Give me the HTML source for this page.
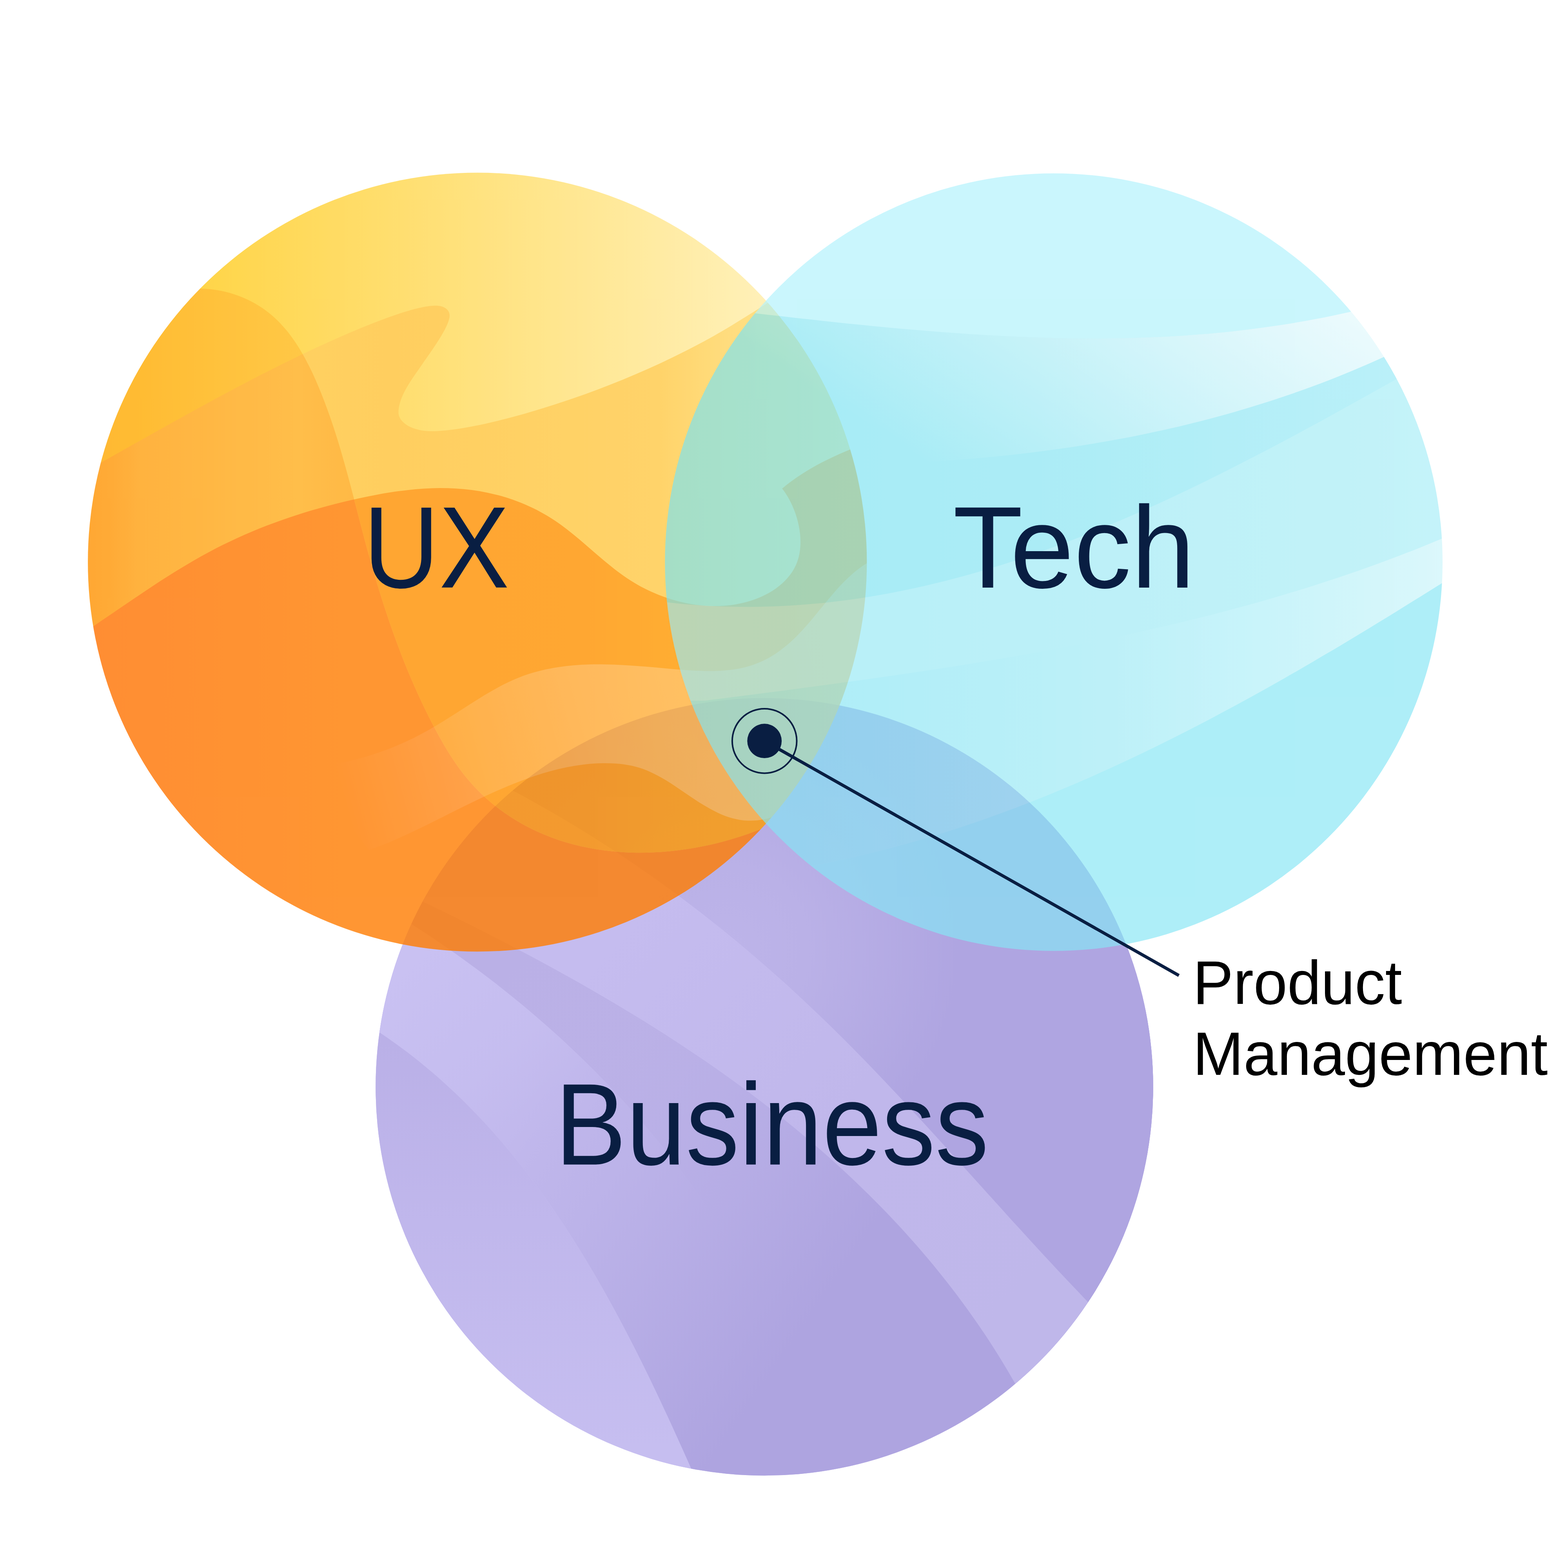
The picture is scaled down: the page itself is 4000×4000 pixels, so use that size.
<!DOCTYPE html>
<html lang="en">
<head>
<meta charset="utf-8">
<title>Product Management Venn diagram</title>
<style>
html,body{margin:0;padding:0;background:#fff;}
body{width:4000px;height:4000px;overflow:hidden;}
svg{display:block;}
text{font-family:"Liberation Sans",sans-serif;}
</style>
</head>
<body>
<svg xmlns="http://www.w3.org/2000/svg" width="4000" height="4000" viewBox="0 0 4000 4000">
<defs>
<clipPath id="cu"><circle cx="1217.75" cy="1434.0" r="993.6"/></clipPath>
<clipPath id="ct"><circle cx="2688.15" cy="1434.0" r="991.85"/></clipPath>
<clipPath id="cb"><circle cx="1950.0" cy="2772.6" r="991.75"/></clipPath>
<clipPath id="cA"><path d="M398.6 756.0C412.3 750.8 426.2 746.6 440.1 743.4C454.1 740.3 468.1 738.2 482.1 737.1C496.1 736.0 510.0 735.9 523.8 736.7C537.6 737.6 551.3 739.4 564.7 742.1C578.1 744.9 591.2 748.5 603.9 753.0C616.7 757.5 629.1 762.8 641.0 769.0C652.9 775.2 664.3 782.2 675.2 789.9C686.0 797.7 696.3 806.2 705.8 815.4C715.4 824.7 724.4 834.6 732.9 845.0C741.3 855.5 749.2 866.5 756.7 878.0C764.1 889.4 771.1 901.3 777.7 913.4C784.3 925.6 790.6 938.0 796.5 950.6C802.4 963.3 808.0 976.0 813.3 988.8C818.7 1001.7 823.8 1014.5 828.7 1027.4C833.6 1040.3 838.3 1053.3 842.8 1066.2C847.3 1079.2 851.6 1092.2 855.8 1105.3C859.9 1118.3 864.0 1131.4 867.9 1144.5C871.8 1157.6 875.5 1170.8 879.2 1183.9C882.9 1197.1 886.5 1210.2 890.1 1223.4C893.6 1236.6 897.1 1249.8 900.5 1263.0C904.0 1276.2 907.4 1289.4 910.8 1302.6C914.2 1315.9 917.6 1329.1 921.1 1342.3C924.5 1355.5 928.0 1368.7 931.6 1381.9C935.1 1395.1 938.7 1408.3 942.4 1421.5C946.1 1434.7 949.8 1447.8 953.7 1461.0C957.5 1474.1 961.4 1487.2 965.5 1500.3C969.5 1513.4 973.6 1526.5 977.8 1539.5C982.0 1552.6 986.3 1565.6 990.7 1578.5C995.1 1591.5 999.6 1604.5 1004.2 1617.3C1008.8 1630.2 1013.6 1643.1 1018.5 1655.9C1023.3 1668.7 1028.3 1681.5 1033.4 1694.2C1038.5 1706.9 1043.8 1719.5 1049.2 1732.1C1054.6 1744.7 1060.1 1757.3 1065.8 1769.7C1071.5 1782.2 1077.3 1794.6 1083.3 1807.0C1089.3 1819.3 1095.4 1831.6 1101.7 1843.8C1108.0 1856.0 1114.4 1868.1 1121.1 1880.1C1127.8 1892.1 1134.7 1904.0 1141.8 1915.7C1149.0 1927.3 1156.5 1938.8 1164.3 1950.0C1172.1 1961.2 1180.2 1972.1 1188.8 1982.6C1197.4 1993.2 1206.5 2003.4 1216.0 2013.1C1225.4 2022.9 1235.4 2032.3 1245.7 2041.2C1256.0 2050.2 1266.7 2058.7 1277.7 2066.8C1288.7 2074.8 1300.1 2082.5 1311.7 2089.7C1323.3 2096.9 1335.2 2103.6 1347.3 2109.9C1359.5 2116.2 1371.8 2122.0 1384.3 2127.3C1396.9 2132.6 1409.6 2137.5 1422.4 2141.9C1435.3 2146.2 1448.3 2150.2 1461.5 2153.7C1474.6 2157.2 1487.9 2160.2 1501.3 2162.8C1514.7 2165.4 1528.2 2167.6 1541.7 2169.4C1555.3 2171.2 1569.0 2172.5 1582.6 2173.5C1596.3 2174.5 1610.1 2175.0 1623.9 2175.2C1637.6 2175.4 1651.4 2175.2 1665.2 2174.6C1679.0 2174.0 1692.8 2173.1 1706.6 2171.8C1720.4 2170.5 1734.1 2168.8 1747.8 2166.8C1761.5 2164.8 1775.1 2162.5 1788.7 2159.8C1802.2 2157.2 1815.7 2154.2 1829.1 2150.9C1842.5 2147.6 1855.7 2144.0 1868.9 2140.1C1882.0 2136.2 1895.0 2132.0 1907.9 2127.5C1920.7 2123.0 1933.4 2118.3 1945.9 2113.2C1958.4 2108.2 1970.8 2102.9 1982.9 2097.4C1995.0 2091.8 2006.9 2086.1 2018.6 2080.0L2500.0 2080.0L2500.0 2700.0L0.0 2700.0L0.0 600.0L400.0 752.0Z"/></clipPath>
<linearGradient id="gR1" gradientUnits="userSpaceOnUse" x1="224" y1="0" x2="2211" y2="0"><stop offset="0.0030" stop-color="#ffc400"/><stop offset="0.9341" stop-color="#fff0b3"/><stop offset="1.0000" stop-color="#fff2bd"/></linearGradient>
<linearGradient id="gR2" gradientUnits="userSpaceOnUse" x1="224" y1="0" x2="2211" y2="0"><stop offset="0.0000" stop-color="#ffa600"/><stop offset="0.0609" stop-color="#ffab00"/><stop offset="0.2647" stop-color="#ffba17"/><stop offset="0.3402" stop-color="#ffbf1e"/></linearGradient>
<linearGradient id="gR3" gradientUnits="userSpaceOnUse" x1="224" y1="0" x2="2211" y2="0"><stop offset="0.2396" stop-color="#ffc63a"/><stop offset="0.3905" stop-color="#ffc338"/><stop offset="0.7328" stop-color="#ffc945"/><stop offset="0.8183" stop-color="#ffd45d"/><stop offset="1.0000" stop-color="#ffe07c"/></linearGradient>
<linearGradient id="gR4" gradientUnits="userSpaceOnUse" x1="224" y1="0" x2="2211" y2="0"><stop offset="0.0000" stop-color="#ff9201"/><stop offset="0.0282" stop-color="#ff9605"/><stop offset="0.0684" stop-color="#ffa010"/><stop offset="0.2698" stop-color="#ffae1d"/><stop offset="0.3402" stop-color="#ffa818"/><stop offset="0.5415" stop-color="#ffa818"/></linearGradient>
<linearGradient id="gR5" gradientUnits="userSpaceOnUse" x1="224" y1="0" x2="2211" y2="0"><stop offset="0.3402" stop-color="#ff9000"/><stop offset="0.6422" stop-color="#ff9200"/><stop offset="0.7328" stop-color="#ff9800"/><stop offset="1.0000" stop-color="#ff9f00"/></linearGradient>
<linearGradient id="gR6" gradientUnits="userSpaceOnUse" x1="224" y1="0" x2="2211" y2="0"><stop offset="0.0000" stop-color="#ff7100"/><stop offset="0.3301" stop-color="#ff7c00"/><stop offset="1.0000" stop-color="#ff7c00"/></linearGradient>
<linearGradient id="gu4" gradientUnits="userSpaceOnUse" x1="880" y1="2060" x2="2200" y2="1700"><stop offset="0.0000" stop-color="#ffffff" stop-opacity="0"/><stop offset="0.0900" stop-color="#ffffff" stop-opacity="0.04"/><stop offset="0.2800" stop-color="#ffffff" stop-opacity="0.13"/><stop offset="0.4700" stop-color="#ffffff" stop-opacity="0.2"/><stop offset="0.6300" stop-color="#ffffff" stop-opacity="0.23"/><stop offset="1.0000" stop-color="#ffffff" stop-opacity="0.27"/></linearGradient>
<linearGradient id="gtD" gradientUnits="userSpaceOnUse" x1="1696" y1="0" x2="3680" y2="0"><stop offset="0.0000" stop-color="#7ae3f2"/><stop offset="0.1532" stop-color="#7ce3f2"/><stop offset="0.4758" stop-color="#83e4f2"/><stop offset="0.9093" stop-color="#97e9f6"/><stop offset="1.0000" stop-color="#9beaf6"/></linearGradient>
<linearGradient id="gtL" gradientUnits="userSpaceOnUse" x1="1696" y1="0" x2="3680" y2="0"><stop offset="0.0000" stop-color="#9ae9f5"/><stop offset="0.2641" stop-color="#97e9f6"/><stop offset="0.4808" stop-color="#9be9f5"/><stop offset="0.9093" stop-color="#a5edf6"/><stop offset="1.0000" stop-color="#a8edf8"/></linearGradient>
<linearGradient id="gtw1" gradientUnits="userSpaceOnUse" x1="2186" y1="1066" x2="2728.4" y2="222.9"><stop offset="0.0000" stop-color="#ffffff" stop-opacity="0"/><stop offset="1.0000" stop-color="#ffffff" stop-opacity="0.8"/></linearGradient>
<linearGradient id="gtw2" gradientUnits="userSpaceOnUse" x1="1696" y1="0" x2="3680" y2="0"><stop offset="0.0000" stop-color="#82e4f2"/><stop offset="0.0776" stop-color="#83e4f2"/><stop offset="0.2641" stop-color="#8be6f5"/><stop offset="0.5766" stop-color="#9eeaf6"/><stop offset="0.7833" stop-color="#b1f0f9"/><stop offset="0.9672" stop-color="#c5f3f9"/><stop offset="1.0000" stop-color="#cbf5fb"/></linearGradient>
<linearGradient id="gbM" gradientUnits="userSpaceOnUse" x1="1350" y1="2700" x2="2150" y2="3250"><stop offset="0.0000" stop-color="#c2b9ed"/><stop offset="0.3500" stop-color="#bcb3e9"/><stop offset="1.0000" stop-color="#aea4e0"/></linearGradient>
<linearGradient id="gbM0" gradientUnits="userSpaceOnUse" x1="1000" y1="2450" x2="1500" y2="2950"><stop offset="0.0000" stop-color="#c9c1f2" stop-opacity="0"/><stop offset="0.5000" stop-color="#c2b9ed" stop-opacity="0.6"/><stop offset="1.0000" stop-color="#beb5ea"/></linearGradient>
<linearGradient id="gbTL" gradientUnits="userSpaceOnUse" x1="1050" y1="2450" x2="1450" y2="2900"><stop offset="0.0000" stop-color="#c9c1f2"/><stop offset="0.5500" stop-color="#c6bef0" stop-opacity="0.8"/><stop offset="1.0000" stop-color="#c2b9ed" stop-opacity="0"/></linearGradient>
<linearGradient id="gb2" gradientUnits="userSpaceOnUse" x1="1250" y1="2450" x2="1900" y2="3050"><stop offset="0.0000" stop-color="#bab0e6"/><stop offset="0.5000" stop-color="#bab0e6" stop-opacity="0.9"/><stop offset="1.0000" stop-color="#b4aae3" stop-opacity="0"/></linearGradient>
<linearGradient id="gb1" gradientUnits="userSpaceOnUse" x1="0" y1="2650" x2="0" y2="3700"><stop offset="0.0000" stop-color="#bab0e7"/><stop offset="0.4500" stop-color="#c0b7ec"/><stop offset="1.0000" stop-color="#c6bef0"/></linearGradient>
<radialGradient id="gbR" gradientUnits="userSpaceOnUse" cx="1850" cy="2420" r="600"><stop offset="0" stop-color="#bdb4e9"/><stop offset="0.35" stop-color="#bab1e7"/><stop offset="1" stop-color="#afa5e1"/></radialGradient>
<linearGradient id="gbL" gradientUnits="userSpaceOnUse" x1="1500" y1="2450" x2="2650" y2="3450"><stop offset="0.0000" stop-color="#c5bcef"/><stop offset="0.5000" stop-color="#c0b7eb"/><stop offset="1.0000" stop-color="#bfb7ea"/></linearGradient>
</defs>
<rect width="4000" height="4000" fill="#fff"/>
<g clip-path="url(#cb)">
<rect x="0" y="0" width="4000" height="4000" fill="#c9c1f2"/>
<path d="M898.2 2590.1C910.5 2597.2 922.6 2604.6 934.6 2612.0C946.5 2619.5 958.3 2627.2 970.0 2635.0C981.7 2642.8 993.2 2650.7 1004.5 2658.9C1015.9 2667.0 1027.1 2675.2 1038.1 2683.6C1049.2 2692.1 1060.1 2700.6 1070.9 2709.3C1081.7 2718.0 1092.3 2726.9 1102.8 2735.8C1113.3 2744.8 1123.7 2753.9 1133.9 2763.2C1144.1 2772.4 1154.2 2781.8 1164.2 2791.3C1174.2 2800.8 1184.0 2810.4 1193.7 2820.2C1203.4 2829.9 1213.0 2839.8 1222.5 2849.8C1231.9 2859.8 1241.3 2869.9 1250.5 2880.1C1259.7 2890.3 1268.8 2900.6 1277.8 2911.1C1286.8 2921.5 1295.7 2932.0 1304.4 2942.7C1313.2 2953.3 1321.8 2964.0 1330.4 2974.9C1338.9 2985.7 1347.3 2996.6 1355.6 3007.6C1364.0 3018.7 1372.2 3029.8 1380.3 3040.9C1388.4 3052.1 1396.4 3063.4 1404.3 3074.8C1412.3 3086.1 1420.1 3097.5 1427.8 3109.0C1435.5 3120.5 1443.2 3132.1 1450.7 3143.8C1458.2 3155.4 1465.7 3167.1 1473.1 3178.9C1480.4 3190.7 1487.7 3202.5 1494.9 3214.4C1502.1 3226.3 1509.2 3238.3 1516.2 3250.3C1523.2 3262.3 1530.2 3274.4 1537.1 3286.5C1543.9 3298.6 1550.7 3310.8 1557.4 3323.0C1564.2 3335.2 1570.8 3347.4 1577.4 3359.7C1584.0 3372.0 1590.5 3384.3 1596.9 3396.7C1603.4 3409.0 1609.8 3421.4 1616.1 3433.8C1622.4 3446.2 1628.6 3458.6 1634.8 3471.1C1641.0 3483.6 1647.2 3496.0 1653.3 3508.5C1659.3 3521.0 1665.4 3533.6 1671.3 3546.1C1677.3 3558.6 1683.2 3571.1 1689.1 3583.7C1695.0 3596.2 1700.8 3608.8 1706.6 3621.3C1712.4 3633.9 1718.1 3646.4 1723.8 3659.0C1729.5 3671.5 1735.2 3684.0 1740.8 3696.6C1746.4 3709.1 1752.0 3721.6 1757.6 3734.1C1763.1 3746.6 1768.6 3759.1 1774.1 3771.6C1779.6 3784.1 1785.1 3796.5 1790.5 3808.9L3500.0 3810.0L3500.0 2000.0L900.0 2000.0Z" fill="url(#gbM)" opacity="1"/>
<path d="M898.2 2590.1C910.5 2597.2 922.6 2604.6 934.6 2612.0C946.5 2619.5 958.3 2627.2 970.0 2635.0C981.7 2642.8 993.2 2650.7 1004.5 2658.9C1015.9 2667.0 1027.1 2675.2 1038.1 2683.6C1049.2 2692.1 1060.1 2700.6 1070.9 2709.3C1081.7 2718.0 1092.3 2726.9 1102.8 2735.8C1113.3 2744.8 1123.7 2753.9 1133.9 2763.2C1144.1 2772.4 1154.2 2781.8 1164.2 2791.3C1174.2 2800.8 1184.0 2810.4 1193.7 2820.2C1203.4 2829.9 1213.0 2839.8 1222.5 2849.8C1231.9 2859.8 1241.3 2869.9 1250.5 2880.1C1259.7 2890.3 1268.8 2900.6 1277.8 2911.1C1286.8 2921.5 1295.7 2932.0 1304.4 2942.7C1313.2 2953.3 1321.8 2964.0 1330.4 2974.9C1338.9 2985.7 1347.3 2996.6 1355.6 3007.6C1364.0 3018.7 1372.2 3029.8 1380.3 3040.9C1388.4 3052.1 1396.4 3063.4 1404.3 3074.8C1412.3 3086.1 1420.1 3097.5 1427.8 3109.0C1435.5 3120.5 1443.2 3132.1 1450.7 3143.8C1458.2 3155.4 1465.7 3167.1 1473.1 3178.9C1480.4 3190.7 1487.7 3202.5 1494.9 3214.4C1502.1 3226.3 1509.2 3238.3 1516.2 3250.3C1523.2 3262.3 1530.2 3274.4 1537.1 3286.5C1543.9 3298.6 1550.7 3310.8 1557.4 3323.0C1564.2 3335.2 1570.8 3347.4 1577.4 3359.7C1584.0 3372.0 1590.5 3384.3 1596.9 3396.7C1603.4 3409.0 1609.8 3421.4 1616.1 3433.8C1622.4 3446.2 1628.6 3458.6 1634.8 3471.1C1641.0 3483.6 1647.2 3496.0 1653.3 3508.5C1659.3 3521.0 1665.4 3533.6 1671.3 3546.1C1677.3 3558.6 1683.2 3571.1 1689.1 3583.7C1695.0 3596.2 1700.8 3608.8 1706.6 3621.3C1712.4 3633.9 1718.1 3646.4 1723.8 3659.0C1729.5 3671.5 1735.2 3684.0 1740.8 3696.6C1746.4 3709.1 1752.0 3721.6 1757.6 3734.1C1763.1 3746.6 1768.6 3759.1 1774.1 3771.6C1779.6 3784.1 1785.1 3796.5 1790.5 3808.9L3500.0 3810.0L3500.0 2000.0L900.0 2000.0Z" fill="url(#gbTL)"/>
<path d="M798.3 2212.7C810.8 2219.1 823.3 2225.6 835.7 2232.3C848.2 2238.9 860.6 2245.6 872.9 2252.4C885.3 2259.2 897.6 2266.0 909.9 2273.0C922.1 2279.9 934.3 2287.0 946.5 2294.1C958.7 2301.2 970.8 2308.4 982.9 2315.7C994.9 2323.0 1006.9 2330.4 1018.9 2337.8C1030.9 2345.3 1042.8 2352.8 1054.6 2360.4C1066.5 2368.1 1078.3 2375.8 1090.0 2383.6C1101.7 2391.4 1113.4 2399.2 1125.0 2407.2C1136.7 2415.1 1148.2 2423.2 1159.7 2431.3C1171.2 2439.4 1182.6 2447.6 1194.0 2455.9C1205.4 2464.2 1216.7 2472.6 1228.0 2481.0C1239.2 2489.5 1250.4 2498.0 1261.5 2506.6C1272.6 2515.2 1283.7 2523.9 1294.6 2532.7C1305.6 2541.5 1316.5 2550.4 1327.4 2559.3C1338.2 2568.3 1349.0 2577.3 1359.7 2586.4C1370.4 2595.5 1381.0 2604.7 1391.5 2614.0C1402.1 2623.3 1412.6 2632.6 1423.0 2642.1C1433.4 2651.5 1443.7 2661.0 1453.9 2670.7C1464.2 2680.3 1474.3 2689.9 1484.4 2699.7C1494.5 2709.5 1504.5 2719.3 1514.4 2729.3C1524.3 2739.2 1534.2 2749.2 1543.9 2759.3C1553.7 2769.4 1563.4 2779.6 1573.0 2789.9C1582.5 2800.1 1592.0 2810.5 1601.5 2820.9C1610.9 2831.3 1620.2 2841.8 1629.4 2852.4C1638.7 2863.0 1647.8 2873.7 1656.9 2884.4C1665.9 2895.2 1674.9 2906.0 1683.7 2916.9C1692.6 2927.8 1701.4 2938.8 1710.1 2949.9C1718.7 2961.0 1727.3 2972.1 1735.8 2983.4C1744.3 2994.6 1752.7 3005.9 1761.0 3017.3C1769.3 3028.7 1777.4 3040.2 1785.5 3051.8C1793.6 3063.3 1801.6 3075.0 1809.5 3086.7C1817.4 3098.4 1825.2 3110.2 1832.8 3122.1C1840.5 3134.0 1848.1 3146.0 1855.5 3158.0C1863.0 3170.1 1870.4 3182.2 1877.6 3194.4C1884.9 3206.6 1892.0 3218.9 1899.0 3231.3L2640.0 3620.0L2639.5 3623.0C2633.2 3610.4 2626.8 3597.9 2620.3 3585.5C2613.7 3573.1 2607.1 3560.8 2600.3 3548.6C2593.6 3536.3 2586.7 3524.2 2579.7 3512.2C2572.8 3500.2 2565.7 3488.3 2558.5 3476.4C2551.3 3464.6 2544.0 3452.9 2536.6 3441.2C2529.2 3429.6 2521.7 3418.0 2514.1 3406.6C2506.5 3395.1 2498.7 3383.8 2490.9 3372.5C2483.1 3361.2 2475.2 3350.0 2467.2 3338.9C2459.2 3327.8 2451.1 3316.8 2442.9 3305.9C2434.7 3295.0 2426.4 3284.1 2418.0 3273.4C2409.6 3262.7 2401.1 3252.0 2392.5 3241.4C2383.9 3230.8 2375.3 3220.4 2366.5 3210.0C2357.7 3199.5 2348.9 3189.2 2340.0 3179.0C2331.0 3168.7 2322.0 3158.6 2312.9 3148.5C2303.8 3138.4 2294.6 3128.4 2285.3 3118.5C2276.1 3108.6 2266.7 3098.8 2257.3 3089.0C2247.9 3079.2 2238.3 3069.6 2228.7 3060.0C2219.2 3050.4 2209.5 3040.8 2199.7 3031.4C2190.0 3021.9 2180.2 3012.6 2170.3 3003.3C2160.4 2994.0 2150.4 2984.7 2140.4 2975.6C2130.4 2966.4 2120.3 2957.4 2110.1 2948.3C2099.9 2939.3 2089.7 2930.4 2079.4 2921.5C2069.0 2912.7 2058.7 2903.9 2048.2 2895.2C2037.8 2886.4 2027.3 2877.8 2016.7 2869.2C2006.2 2860.6 1995.5 2852.1 1984.8 2843.6C1974.2 2835.2 1963.4 2826.8 1952.6 2818.5C1941.8 2810.1 1930.9 2801.9 1920.0 2793.7C1909.1 2785.5 1898.1 2777.4 1887.1 2769.3C1876.1 2761.2 1865.0 2753.2 1853.9 2745.3C1842.8 2737.3 1831.6 2729.5 1820.4 2721.6C1809.2 2713.8 1797.9 2706.0 1786.6 2698.3C1775.2 2690.6 1763.9 2683.0 1752.5 2675.4C1741.1 2667.8 1729.6 2660.3 1718.1 2652.8C1706.6 2645.3 1695.1 2637.9 1683.5 2630.6C1671.9 2623.2 1660.3 2615.9 1648.7 2608.6C1637.0 2601.4 1625.3 2594.2 1613.6 2587.0C1601.9 2579.9 1590.1 2572.8 1578.4 2565.7C1566.6 2558.7 1554.8 2551.7 1542.9 2544.7C1531.1 2537.8 1519.2 2530.9 1507.3 2524.0C1495.4 2517.2 1483.4 2510.4 1471.5 2503.6C1459.5 2496.9 1447.5 2490.1 1435.5 2483.5C1423.5 2476.8 1411.5 2470.2 1399.4 2463.6C1387.4 2457.0 1375.3 2450.5 1363.2 2444.0C1351.1 2437.5 1339.0 2431.1 1326.9 2424.7C1314.7 2418.3 1302.6 2411.9 1290.4 2405.6C1278.3 2399.3 1266.1 2393.0 1253.9 2386.8C1241.7 2380.5 1229.5 2374.3 1217.3 2368.1C1205.1 2362.0 1192.9 2355.8 1180.7 2349.8C1168.4 2343.7 1156.2 2337.6 1144.0 2331.6C1131.7 2325.6 1119.5 2319.6 1107.2 2313.6C1095.0 2307.7 1082.8 2301.7 1070.5 2295.8C1058.3 2290.0 1046.0 2284.1 1033.8 2278.3C1021.5 2272.5 1009.3 2266.7 997.0 2260.9C984.8 2255.1 972.5 2249.4 960.3 2243.7C948.1 2238.0 935.9 2232.3 923.6 2226.6C911.4 2221.0 899.2 2215.4 887.0 2209.8C874.8 2204.2 862.6 2198.6 850.5 2193.0Z" fill="url(#gb2)"/>
<path d="M898.2 2590.1C910.5 2597.2 922.6 2604.6 934.6 2612.0C946.5 2619.5 958.3 2627.2 970.0 2635.0C981.7 2642.8 993.2 2650.7 1004.5 2658.9C1015.9 2667.0 1027.1 2675.2 1038.1 2683.6C1049.2 2692.1 1060.1 2700.6 1070.9 2709.3C1081.7 2718.0 1092.3 2726.9 1102.8 2735.8C1113.3 2744.8 1123.7 2753.9 1133.9 2763.2C1144.1 2772.4 1154.2 2781.8 1164.2 2791.3C1174.2 2800.8 1184.0 2810.4 1193.7 2820.2C1203.4 2829.9 1213.0 2839.8 1222.5 2849.8C1231.9 2859.8 1241.3 2869.9 1250.5 2880.1C1259.7 2890.3 1268.8 2900.6 1277.8 2911.1C1286.8 2921.5 1295.7 2932.0 1304.4 2942.7C1313.2 2953.3 1321.8 2964.0 1330.4 2974.9C1338.9 2985.7 1347.3 2996.6 1355.6 3007.6C1364.0 3018.7 1372.2 3029.8 1380.3 3040.9C1388.4 3052.1 1396.4 3063.4 1404.3 3074.8C1412.3 3086.1 1420.1 3097.5 1427.8 3109.0C1435.5 3120.5 1443.2 3132.1 1450.7 3143.8C1458.2 3155.4 1465.7 3167.1 1473.1 3178.9C1480.4 3190.7 1487.7 3202.5 1494.9 3214.4C1502.1 3226.3 1509.2 3238.3 1516.2 3250.3C1523.2 3262.3 1530.2 3274.4 1537.1 3286.5C1543.9 3298.6 1550.7 3310.8 1557.4 3323.0C1564.2 3335.2 1570.8 3347.4 1577.4 3359.7C1584.0 3372.0 1590.5 3384.3 1596.9 3396.7C1603.4 3409.0 1609.8 3421.4 1616.1 3433.8C1622.4 3446.2 1628.6 3458.6 1634.8 3471.1C1641.0 3483.6 1647.2 3496.0 1653.3 3508.5C1659.3 3521.0 1665.4 3533.6 1671.3 3546.1C1677.3 3558.6 1683.2 3571.1 1689.1 3583.7C1695.0 3596.2 1700.8 3608.8 1706.6 3621.3C1712.4 3633.9 1718.1 3646.4 1723.8 3659.0C1729.5 3671.5 1735.2 3684.0 1740.8 3696.6C1746.4 3709.1 1752.0 3721.6 1757.6 3734.1C1763.1 3746.6 1768.6 3759.1 1774.1 3771.6C1779.6 3784.1 1785.1 3796.5 1790.5 3808.9L500.0 3810.0L500.0 2590.0Z" fill="url(#gb1)"/>
<path d="M1096.2 1914.1C1109.0 1919.8 1121.8 1925.5 1134.6 1931.3C1147.3 1937.1 1160.0 1943.0 1172.6 1949.0C1185.3 1955.0 1197.8 1961.0 1210.4 1967.1C1222.9 1973.3 1235.4 1979.5 1247.8 1985.7C1260.2 1992.0 1272.6 1998.4 1284.9 2004.8C1297.3 2011.2 1309.5 2017.7 1321.7 2024.3C1334.0 2030.9 1346.1 2037.5 1358.3 2044.3C1370.4 2051.0 1382.4 2057.8 1394.5 2064.7C1406.5 2071.6 1418.4 2078.5 1430.4 2085.5C1442.3 2092.5 1454.1 2099.6 1465.9 2106.8C1477.8 2113.9 1489.5 2121.2 1501.2 2128.5C1512.9 2135.8 1524.6 2143.2 1536.2 2150.6C1547.8 2158.0 1559.4 2165.5 1570.9 2173.1C1582.4 2180.7 1593.9 2188.3 1605.3 2196.1C1616.7 2203.8 1628.0 2211.5 1639.3 2219.4C1650.6 2227.2 1661.9 2235.2 1673.1 2243.1C1684.3 2251.1 1695.5 2259.2 1706.6 2267.3C1717.7 2275.4 1728.8 2283.5 1739.8 2291.8C1750.8 2300.0 1761.7 2308.3 1772.6 2316.7C1783.6 2325.0 1794.4 2333.4 1805.2 2341.9C1816.0 2350.4 1826.8 2359.0 1837.5 2367.6C1848.2 2376.2 1858.9 2384.9 1869.5 2393.6C1880.1 2402.3 1890.7 2411.1 1901.2 2419.9C1911.7 2428.8 1922.2 2437.7 1932.6 2446.7C1943.0 2455.6 1953.4 2464.6 1963.7 2473.7C1974.1 2482.8 1984.3 2491.9 1994.6 2501.1C2004.8 2510.3 2015.0 2519.6 2025.1 2528.9C2035.2 2538.2 2045.3 2547.5 2055.3 2556.9C2065.4 2566.4 2075.4 2575.8 2085.3 2585.4C2095.2 2594.9 2105.1 2604.4 2115.0 2614.1C2124.8 2623.7 2134.6 2633.3 2144.4 2643.1C2154.2 2652.8 2163.9 2662.5 2173.6 2672.3C2183.3 2682.1 2192.9 2692.0 2202.6 2701.8C2212.2 2711.7 2221.8 2721.6 2231.3 2731.6C2240.9 2741.5 2250.4 2751.5 2259.9 2761.5C2269.4 2771.5 2278.9 2781.6 2288.3 2791.6C2297.8 2801.7 2307.2 2811.8 2316.6 2821.9C2326.0 2832.0 2335.4 2842.2 2344.8 2852.3C2354.1 2862.5 2363.5 2872.6 2372.8 2882.8C2382.1 2893.0 2391.4 2903.2 2400.8 2913.5C2410.1 2923.7 2419.4 2933.9 2428.6 2944.2C2437.9 2954.4 2447.2 2964.6 2456.5 2974.9C2465.7 2985.1 2475.0 2995.4 2484.3 3005.7C2493.5 3015.9 2502.8 3026.2 2512.1 3036.4C2521.3 3046.7 2530.6 3057.0 2539.9 3067.2C2549.1 3077.5 2558.4 3087.7 2567.7 3097.9C2577.0 3108.2 2586.2 3118.4 2595.5 3128.6C2604.8 3138.8 2614.1 3149.0 2623.5 3159.2C2632.8 3169.4 2642.1 3179.5 2651.5 3189.7C2660.8 3199.8 2670.2 3209.9 2679.6 3220.0C2688.9 3230.1 2698.3 3240.2 2707.8 3250.3C2717.2 3260.3 2726.6 3270.3 2736.1 3280.3C2745.6 3290.3 2755.1 3300.3 2764.6 3310.2C2774.2 3320.1 2783.7 3330.0 2793.3 3339.8C2802.9 3349.7 2812.5 3359.5 2822.2 3369.3C2831.8 3379.0 2841.5 3388.8 2851.3 3398.4L4000.0 3400.0L4000.0 1500.0L1100.0 1500.0Z" fill="url(#gbR)"/>
<path d="M1096.2 1914.1C1109.0 1919.8 1121.8 1925.5 1134.6 1931.3C1147.3 1937.1 1160.0 1943.0 1172.6 1949.0C1185.3 1955.0 1197.8 1961.0 1210.4 1967.1C1222.9 1973.3 1235.4 1979.5 1247.8 1985.7C1260.2 1992.0 1272.6 1998.4 1284.9 2004.8C1297.3 2011.2 1309.5 2017.7 1321.7 2024.3C1334.0 2030.9 1346.1 2037.5 1358.3 2044.3C1370.4 2051.0 1382.4 2057.8 1394.5 2064.7C1406.5 2071.6 1418.4 2078.5 1430.4 2085.5C1442.3 2092.5 1454.1 2099.6 1465.9 2106.8C1477.8 2113.9 1489.5 2121.2 1501.2 2128.5C1512.9 2135.8 1524.6 2143.2 1536.2 2150.6C1547.8 2158.0 1559.4 2165.5 1570.9 2173.1C1582.4 2180.7 1593.9 2188.3 1605.3 2196.1C1616.7 2203.8 1628.0 2211.5 1639.3 2219.4C1650.6 2227.2 1661.9 2235.2 1673.1 2243.1C1684.3 2251.1 1695.5 2259.2 1706.6 2267.3C1717.7 2275.4 1728.8 2283.5 1739.8 2291.8C1750.8 2300.0 1761.7 2308.3 1772.6 2316.7C1783.6 2325.0 1794.4 2333.4 1805.2 2341.9C1816.0 2350.4 1826.8 2359.0 1837.5 2367.6C1848.2 2376.2 1858.9 2384.9 1869.5 2393.6C1880.1 2402.3 1890.7 2411.1 1901.2 2419.9C1911.7 2428.8 1922.2 2437.7 1932.6 2446.7C1943.0 2455.6 1953.4 2464.6 1963.7 2473.7C1974.1 2482.8 1984.3 2491.9 1994.6 2501.1C2004.8 2510.3 2015.0 2519.6 2025.1 2528.9C2035.2 2538.2 2045.3 2547.5 2055.3 2556.9C2065.4 2566.4 2075.4 2575.8 2085.3 2585.4C2095.2 2594.9 2105.1 2604.4 2115.0 2614.1C2124.8 2623.7 2134.6 2633.3 2144.4 2643.1C2154.2 2652.8 2163.9 2662.5 2173.6 2672.3C2183.3 2682.1 2192.9 2692.0 2202.6 2701.8C2212.2 2711.7 2221.8 2721.6 2231.3 2731.6C2240.9 2741.5 2250.4 2751.5 2259.9 2761.5C2269.4 2771.5 2278.9 2781.6 2288.3 2791.6C2297.8 2801.7 2307.2 2811.8 2316.6 2821.9C2326.0 2832.0 2335.4 2842.2 2344.8 2852.3C2354.1 2862.5 2363.5 2872.6 2372.8 2882.8C2382.1 2893.0 2391.4 2903.2 2400.8 2913.5C2410.1 2923.7 2419.4 2933.9 2428.6 2944.2C2437.9 2954.4 2447.2 2964.6 2456.5 2974.9C2465.7 2985.1 2475.0 2995.4 2484.3 3005.7C2493.5 3015.9 2502.8 3026.2 2512.1 3036.4C2521.3 3046.7 2530.6 3057.0 2539.9 3067.2C2549.1 3077.5 2558.4 3087.7 2567.7 3097.9C2577.0 3108.2 2586.2 3118.4 2595.5 3128.6C2604.8 3138.8 2614.1 3149.0 2623.5 3159.2C2632.8 3169.4 2642.1 3179.5 2651.5 3189.7C2660.8 3199.8 2670.2 3209.9 2679.6 3220.0C2688.9 3230.1 2698.3 3240.2 2707.8 3250.3C2717.2 3260.3 2726.6 3270.3 2736.1 3280.3C2745.6 3290.3 2755.1 3300.3 2764.6 3310.2C2774.2 3320.1 2783.7 3330.0 2793.3 3339.8C2802.9 3349.7 2812.5 3359.5 2822.2 3369.3C2831.8 3379.0 2841.5 3388.8 2851.3 3398.4L2640.0 3620.0L2639.5 3623.0C2633.2 3610.4 2626.8 3597.9 2620.3 3585.5C2613.7 3573.1 2607.1 3560.8 2600.3 3548.6C2593.6 3536.3 2586.7 3524.2 2579.7 3512.2C2572.8 3500.2 2565.7 3488.3 2558.5 3476.4C2551.3 3464.6 2544.0 3452.9 2536.6 3441.2C2529.2 3429.6 2521.7 3418.0 2514.1 3406.6C2506.5 3395.1 2498.7 3383.8 2490.9 3372.5C2483.1 3361.2 2475.2 3350.0 2467.2 3338.9C2459.2 3327.8 2451.1 3316.8 2442.9 3305.9C2434.7 3295.0 2426.4 3284.1 2418.0 3273.4C2409.6 3262.7 2401.1 3252.0 2392.5 3241.4C2383.9 3230.8 2375.3 3220.4 2366.5 3210.0C2357.7 3199.5 2348.9 3189.2 2340.0 3179.0C2331.0 3168.7 2322.0 3158.6 2312.9 3148.5C2303.8 3138.4 2294.6 3128.4 2285.3 3118.5C2276.1 3108.6 2266.7 3098.8 2257.3 3089.0C2247.9 3079.2 2238.3 3069.6 2228.7 3060.0C2219.2 3050.4 2209.5 3040.8 2199.7 3031.4C2190.0 3021.9 2180.2 3012.6 2170.3 3003.3C2160.4 2994.0 2150.4 2984.7 2140.4 2975.6C2130.4 2966.4 2120.3 2957.4 2110.1 2948.3C2099.9 2939.3 2089.7 2930.4 2079.4 2921.5C2069.0 2912.7 2058.7 2903.9 2048.2 2895.2C2037.8 2886.4 2027.3 2877.8 2016.7 2869.2C2006.2 2860.6 1995.5 2852.1 1984.8 2843.6C1974.2 2835.2 1963.4 2826.8 1952.6 2818.5C1941.8 2810.1 1930.9 2801.9 1920.0 2793.7C1909.1 2785.5 1898.1 2777.4 1887.1 2769.3C1876.1 2761.2 1865.0 2753.2 1853.9 2745.3C1842.8 2737.3 1831.6 2729.5 1820.4 2721.6C1809.2 2713.8 1797.9 2706.0 1786.6 2698.3C1775.2 2690.6 1763.9 2683.0 1752.5 2675.4C1741.1 2667.8 1729.6 2660.3 1718.1 2652.8C1706.6 2645.3 1695.1 2637.9 1683.5 2630.6C1671.9 2623.2 1660.3 2615.9 1648.7 2608.6C1637.0 2601.4 1625.3 2594.2 1613.6 2587.0C1601.9 2579.9 1590.1 2572.8 1578.4 2565.7C1566.6 2558.7 1554.8 2551.7 1542.9 2544.7C1531.1 2537.8 1519.2 2530.9 1507.3 2524.0C1495.4 2517.2 1483.4 2510.4 1471.5 2503.6C1459.5 2496.9 1447.5 2490.1 1435.5 2483.5C1423.5 2476.8 1411.5 2470.2 1399.4 2463.6C1387.4 2457.0 1375.3 2450.5 1363.2 2444.0C1351.1 2437.5 1339.0 2431.1 1326.9 2424.7C1314.7 2418.3 1302.6 2411.9 1290.4 2405.6C1278.3 2399.3 1266.1 2393.0 1253.9 2386.8C1241.7 2380.5 1229.5 2374.3 1217.3 2368.1C1205.1 2362.0 1192.9 2355.8 1180.7 2349.8C1168.4 2343.7 1156.2 2337.6 1144.0 2331.6C1131.7 2325.6 1119.5 2319.6 1107.2 2313.6C1095.0 2307.7 1082.8 2301.7 1070.5 2295.8C1058.3 2290.0 1046.0 2284.1 1033.8 2278.3C1021.5 2272.5 1009.3 2266.7 997.0 2260.9C984.8 2255.1 972.5 2249.4 960.3 2243.7C948.1 2238.0 935.9 2232.3 923.6 2226.6C911.4 2221.0 899.2 2215.4 887.0 2209.8C874.8 2204.2 862.6 2198.6 850.5 2193.0Z" fill="url(#gbL)"/>
</g>
<g clip-path="url(#cu)" opacity="0.8">
<rect x="0" y="0" width="4000" height="4000" fill="url(#gR1)"/>
<path d="M150 1240C357.6 1125.8 561.2 1004.2 775 902C865 859 1041 779.8 1111.2 779.8C1133 779.8 1147 790 1147 805C1147 832 1102.7 892.6 1077 929.5C1051.4 966.4 1016.5 1012 1016.5 1052C1016.5 1079 1054 1100 1100 1100C1170 1100 1280.7 1072.8 1365 1047.5C1518.3 1001.6 1672 939.4 1812 862C1869.8 830 1950 778 2010 740L2500.0 740.0L2500.0 2700.0L0.0 2700.0L0.0 1240.0Z" fill="url(#gR3)"/>
<path d="M150.1 1654.8C161.6 1647.7 173.2 1640.3 184.6 1632.9C196.1 1625.5 207.5 1618.0 219.0 1610.4C230.4 1602.8 241.8 1595.1 253.1 1587.4C264.5 1579.7 275.9 1571.9 287.3 1564.2C298.7 1556.4 310.0 1548.6 321.4 1540.9C332.8 1533.1 344.2 1525.4 355.7 1517.7C367.1 1510.0 378.6 1502.3 390.1 1494.7C401.6 1487.1 413.2 1479.6 424.8 1472.3C436.4 1464.9 448.0 1457.6 459.8 1450.4C471.5 1443.3 483.3 1436.3 495.1 1429.4C507.0 1422.6 519.0 1415.9 531.0 1409.4C543.1 1402.9 555.2 1396.6 567.4 1390.5C579.7 1384.5 592.0 1378.6 604.4 1372.9C616.8 1367.2 629.3 1361.7 641.9 1356.5C654.5 1351.2 667.2 1346.1 679.9 1341.1C692.7 1336.2 705.5 1331.5 718.4 1326.9C731.3 1322.4 744.3 1318.0 757.4 1313.8C770.4 1309.6 783.6 1305.5 796.7 1301.6C809.9 1297.8 823.2 1294.0 836.5 1290.5C849.8 1286.9 863.2 1283.5 876.6 1280.3C890.1 1277.0 903.5 1273.9 917.1 1271.0C930.6 1268.0 944.2 1265.2 957.8 1262.7C971.5 1260.1 985.1 1257.7 998.8 1255.6C1012.5 1253.5 1026.2 1251.7 1039.9 1250.2C1053.6 1248.6 1067.3 1247.4 1081.0 1246.6C1094.7 1245.7 1108.3 1245.2 1122.0 1245.1C1135.7 1245.1 1149.3 1245.4 1162.9 1246.2C1176.5 1247.0 1190.1 1248.3 1203.6 1250.0C1217.1 1251.8 1230.6 1254.1 1243.9 1256.9C1257.3 1259.7 1270.5 1263.0 1283.6 1266.8C1296.7 1270.6 1309.7 1275.0 1322.4 1279.9C1335.2 1284.8 1347.7 1290.2 1360.0 1296.2C1372.3 1302.2 1384.4 1308.7 1396.1 1315.8C1407.9 1322.9 1419.3 1330.5 1430.5 1338.6C1441.7 1346.7 1452.6 1355.3 1463.4 1364.1C1474.2 1372.9 1484.8 1381.9 1495.4 1391.0C1505.9 1400.1 1516.4 1409.3 1527.0 1418.3C1537.6 1427.3 1548.2 1436.2 1558.9 1444.8C1569.6 1453.4 1580.5 1461.7 1591.6 1469.5C1602.7 1477.3 1614.1 1484.5 1625.7 1491.2C1637.4 1497.9 1649.3 1504.0 1661.6 1509.6C1673.8 1515.2 1686.4 1520.2 1699.3 1524.6C1712.2 1529.0 1725.5 1532.8 1739.0 1536.0C1752.6 1539.2 1766.3 1541.7 1780.2 1543.4C1794.1 1545.1 1808.1 1546.0 1822.0 1546.1C1836.0 1546.2 1850.0 1545.5 1863.9 1543.7C1877.7 1542.0 1891.5 1539.3 1905.0 1535.6C1918.5 1531.9 1931.7 1527.1 1944.2 1521.3C1956.8 1515.5 1968.7 1508.7 1979.6 1500.9C1990.5 1493.1 2000.4 1484.3 2008.9 1474.5C2017.5 1464.7 2024.6 1454.0 2030.0 1442.2C2035.4 1430.5 2038.9 1417.7 2040.7 1404.2C2042.4 1390.8 2042.4 1376.6 2041.0 1362.4C2039.5 1348.2 2036.6 1333.9 2032.4 1319.9C2028.2 1306.0 2022.8 1292.5 2016.5 1280.0C2010.1 1267.4 2002.8 1255.8 1994.8 1245.7L1996.4 1245.5C2007.3 1236.3 2018.6 1227.7 2030.2 1219.6C2041.8 1211.5 2053.6 1203.9 2065.8 1196.7C2077.9 1189.5 2090.3 1182.8 2102.9 1176.4C2115.5 1170.0 2128.2 1164.0 2141.2 1158.2C2154.1 1152.5 2167.1 1147.1 2180.3 1141.9C2193.5 1136.7 2206.7 1131.8 2220.0 1127.0C2233.3 1122.2 2246.7 1117.6 2260.0 1113.1L2500.0 1115.0L2500.0 2700.0L0.0 2700.0L0.0 1655.0Z" fill="url(#gR5)"/>
<g clip-path="url(#cA)"><rect x="0" y="0" width="4000" height="4000" fill="url(#gR2)"/><path d="M150 1240C357.6 1125.8 561.2 1004.2 775 902C865 859 1041 779.8 1111.2 779.8C1133 779.8 1147 790 1147 805C1147 832 1102.7 892.6 1077 929.5C1051.4 966.4 1016.5 1012 1016.5 1052C1016.5 1079 1054 1100 1100 1100C1170 1100 1280.7 1072.8 1365 1047.5C1518.3 1001.6 1672 939.4 1812 862C1869.8 830 1950 778 2010 740L2500.0 740.0L2500.0 2700.0L0.0 2700.0L0.0 1240.0Z" fill="url(#gR4)"/><path d="M150.1 1654.8C161.6 1647.7 173.2 1640.3 184.6 1632.9C196.1 1625.5 207.5 1618.0 219.0 1610.4C230.4 1602.8 241.8 1595.1 253.1 1587.4C264.5 1579.7 275.9 1571.9 287.3 1564.2C298.7 1556.4 310.0 1548.6 321.4 1540.9C332.8 1533.1 344.2 1525.4 355.7 1517.7C367.1 1510.0 378.6 1502.3 390.1 1494.7C401.6 1487.1 413.2 1479.6 424.8 1472.3C436.4 1464.9 448.0 1457.6 459.8 1450.4C471.5 1443.3 483.3 1436.3 495.1 1429.4C507.0 1422.6 519.0 1415.9 531.0 1409.4C543.1 1402.9 555.2 1396.6 567.4 1390.5C579.7 1384.5 592.0 1378.6 604.4 1372.9C616.8 1367.2 629.3 1361.7 641.9 1356.5C654.5 1351.2 667.2 1346.1 679.9 1341.1C692.7 1336.2 705.5 1331.5 718.4 1326.9C731.3 1322.4 744.3 1318.0 757.4 1313.8C770.4 1309.6 783.6 1305.5 796.7 1301.6C809.9 1297.8 823.2 1294.0 836.5 1290.5C849.8 1286.9 863.2 1283.5 876.6 1280.3C890.1 1277.0 903.5 1273.9 917.1 1271.0C930.6 1268.0 944.2 1265.2 957.8 1262.7C971.5 1260.1 985.1 1257.7 998.8 1255.6C1012.5 1253.5 1026.2 1251.7 1039.9 1250.2C1053.6 1248.6 1067.3 1247.4 1081.0 1246.6C1094.7 1245.7 1108.3 1245.2 1122.0 1245.1C1135.7 1245.1 1149.3 1245.4 1162.9 1246.2C1176.5 1247.0 1190.1 1248.3 1203.6 1250.0C1217.1 1251.8 1230.6 1254.1 1243.9 1256.9C1257.3 1259.7 1270.5 1263.0 1283.6 1266.8C1296.7 1270.6 1309.7 1275.0 1322.4 1279.9C1335.2 1284.8 1347.7 1290.2 1360.0 1296.2C1372.3 1302.2 1384.4 1308.7 1396.1 1315.8C1407.9 1322.9 1419.3 1330.5 1430.5 1338.6C1441.7 1346.7 1452.6 1355.3 1463.4 1364.1C1474.2 1372.9 1484.8 1381.9 1495.4 1391.0C1505.9 1400.1 1516.4 1409.3 1527.0 1418.3C1537.6 1427.3 1548.2 1436.2 1558.9 1444.8C1569.6 1453.4 1580.5 1461.7 1591.6 1469.5C1602.7 1477.3 1614.1 1484.5 1625.7 1491.2C1637.4 1497.9 1649.3 1504.0 1661.6 1509.6C1673.8 1515.2 1686.4 1520.2 1699.3 1524.6C1712.2 1529.0 1725.5 1532.8 1739.0 1536.0C1752.6 1539.2 1766.3 1541.7 1780.2 1543.4C1794.1 1545.1 1808.1 1546.0 1822.0 1546.1C1836.0 1546.2 1850.0 1545.5 1863.9 1543.7C1877.7 1542.0 1891.5 1539.3 1905.0 1535.6C1918.5 1531.9 1931.7 1527.1 1944.2 1521.3C1956.8 1515.5 1968.7 1508.7 1979.6 1500.9C1990.5 1493.1 2000.4 1484.3 2008.9 1474.5C2017.5 1464.7 2024.6 1454.0 2030.0 1442.2C2035.4 1430.5 2038.9 1417.7 2040.7 1404.2C2042.4 1390.8 2042.4 1376.6 2041.0 1362.4C2039.5 1348.2 2036.6 1333.9 2032.4 1319.9C2028.2 1306.0 2022.8 1292.5 2016.5 1280.0C2010.1 1267.4 2002.8 1255.8 1994.8 1245.7L1996.4 1245.5C2007.3 1236.3 2018.6 1227.7 2030.2 1219.6C2041.8 1211.5 2053.6 1203.9 2065.8 1196.7C2077.9 1189.5 2090.3 1182.8 2102.9 1176.4C2115.5 1170.0 2128.2 1164.0 2141.2 1158.2C2154.1 1152.5 2167.1 1147.1 2180.3 1141.9C2193.5 1136.7 2206.7 1131.8 2220.0 1127.0C2233.3 1122.2 2246.7 1117.6 2260.0 1113.1L2500.0 1115.0L2500.0 2700.0L0.0 2700.0L0.0 1655.0Z" fill="url(#gR6)"/></g>
<path d="M778.9 1957.8C793.3 1956.8 807.6 1955.4 821.6 1953.6C835.6 1951.8 849.5 1949.6 863.1 1947.1C876.7 1944.6 890.1 1941.7 903.4 1938.4C916.6 1935.2 929.7 1931.5 942.6 1927.6C955.5 1923.6 968.3 1919.3 980.9 1914.6C993.6 1909.9 1006.1 1904.9 1018.5 1899.5C1030.9 1894.2 1043.2 1888.4 1055.4 1882.4C1067.6 1876.4 1079.7 1870.0 1091.7 1863.3C1103.8 1856.5 1115.8 1849.5 1127.7 1842.1C1139.6 1834.8 1151.5 1827.2 1163.4 1819.6C1175.3 1811.9 1187.2 1804.2 1199.1 1796.5C1211.0 1788.9 1223.0 1781.4 1235.0 1774.1C1247.0 1766.8 1259.1 1759.8 1271.3 1753.2C1283.5 1746.6 1295.7 1740.5 1308.2 1735.0C1320.6 1729.5 1333.2 1724.6 1345.9 1720.3C1358.6 1716.1 1371.5 1712.5 1384.4 1709.4C1397.4 1706.4 1410.5 1703.9 1423.8 1701.9C1437.0 1699.9 1450.3 1698.4 1463.7 1697.3C1477.2 1696.2 1490.7 1695.5 1504.3 1695.1C1517.9 1694.8 1531.6 1694.8 1545.4 1695.0C1559.2 1695.3 1573.0 1695.8 1586.9 1696.5C1600.7 1697.2 1614.7 1698.2 1628.7 1699.2C1642.6 1700.2 1656.6 1701.4 1670.7 1702.6C1684.7 1703.9 1698.8 1705.1 1712.8 1706.4C1726.9 1707.6 1740.9 1708.8 1754.9 1709.8C1768.9 1710.7 1782.8 1711.4 1796.6 1711.7C1810.4 1712.0 1824.0 1711.9 1837.5 1711.2C1850.9 1710.5 1864.2 1709.1 1877.2 1707.0C1890.2 1704.9 1902.9 1701.9 1915.3 1698.0C1927.7 1694.1 1939.8 1689.2 1951.5 1683.3C1963.3 1677.3 1974.6 1670.5 1985.6 1662.7C1996.6 1655.0 2007.1 1646.5 2017.3 1637.3C2027.5 1628.0 2037.3 1618.1 2046.8 1607.8C2056.3 1597.4 2065.6 1586.6 2074.7 1575.7C2083.8 1564.7 2092.8 1553.6 2101.9 1542.6C2110.9 1531.6 2120.0 1520.6 2129.3 1510.0C2138.5 1499.4 2148.0 1489.2 2157.8 1479.6C2167.5 1469.9 2177.7 1460.9 2188.2 1452.7C2198.8 1444.6 2209.9 1437.3 2221.6 1431.1C2233.3 1424.9 2245.6 1419.9 2258.7 1416.3L2400.0 1425.0L2400.0 2055.0L2031.7 2051.9C2018.1 2062.0 2004.3 2070.2 1990.4 2076.5C1976.6 2082.8 1962.8 2087.3 1949.1 2090.1C1935.3 2092.9 1921.7 2094.0 1908.3 2093.5C1894.9 2093.1 1881.8 2091.0 1868.9 2087.5C1856.1 2084.0 1843.5 2079.2 1831.2 2073.4C1818.8 2067.6 1806.7 2060.9 1794.6 2053.6C1782.6 2046.3 1770.8 2038.5 1759.0 2030.5C1747.2 2022.5 1735.4 2014.4 1723.6 2006.5C1711.8 1998.7 1699.8 1991.0 1687.7 1984.1C1675.5 1977.1 1663.1 1970.8 1650.4 1965.5C1637.6 1960.3 1624.5 1956.2 1611.0 1953.3C1597.4 1950.4 1583.6 1948.6 1569.6 1947.7C1555.7 1946.8 1541.6 1946.8 1527.6 1947.3C1513.6 1947.9 1499.7 1949.1 1485.9 1950.8C1472.1 1952.6 1458.4 1954.9 1444.8 1957.6C1431.1 1960.4 1417.6 1963.7 1404.1 1967.3C1390.6 1971.0 1377.2 1975.1 1363.9 1979.5C1350.6 1984.0 1337.3 1988.8 1324.1 1993.9C1310.9 1998.9 1297.8 2004.3 1284.7 2009.9C1271.7 2015.5 1258.7 2021.3 1245.7 2027.3C1232.7 2033.3 1219.8 2039.4 1206.9 2045.7C1194.1 2051.9 1181.3 2058.2 1168.5 2064.6C1155.7 2071.0 1142.9 2077.4 1130.2 2083.7C1117.5 2090.1 1104.8 2096.4 1092.2 2102.7C1079.5 2108.9 1066.9 2115.0 1054.3 2121.0C1041.7 2127.0 1029.1 2132.8 1016.5 2138.4C1004.0 2143.9 991.4 2149.3 978.8 2154.4C966.3 2159.4 953.7 2164.2 941.2 2168.6Z" fill="url(#gu4)"/>
</g>
<g clip-path="url(#ct)" opacity="0.67">
<rect x="0" y="0" width="4000" height="4000" fill="#b0f2fc"/>
<path d="M1850.3 790.5C1864.2 792.0 1878.0 793.6 1891.9 795.2C1905.8 796.8 1919.7 798.4 1933.6 800.0C1947.4 801.6 1961.3 803.2 1975.2 804.8C1989.1 806.4 2003.0 807.9 2016.9 809.5C2030.8 811.1 2044.8 812.6 2058.7 814.1C2072.6 815.7 2086.5 817.2 2100.4 818.7C2114.4 820.2 2128.3 821.7 2142.2 823.2C2156.2 824.6 2170.1 826.1 2184.1 827.5C2198.0 828.9 2211.9 830.3 2225.9 831.7C2239.8 833.0 2253.8 834.4 2267.7 835.7C2281.7 837.0 2295.7 838.3 2309.6 839.5C2323.6 840.7 2337.5 841.9 2351.5 843.1C2365.5 844.3 2379.4 845.4 2393.4 846.5C2407.4 847.6 2421.3 848.6 2435.3 849.6C2449.3 850.6 2463.3 851.6 2477.2 852.5C2491.2 853.4 2505.2 854.3 2519.1 855.1C2533.1 855.9 2547.1 856.6 2561.1 857.3C2575.0 858.0 2589.0 858.7 2603.0 859.3C2617.0 859.8 2630.9 860.4 2644.9 860.8C2658.9 861.3 2672.8 861.7 2686.8 862.1C2700.8 862.4 2714.7 862.7 2728.7 862.9C2742.7 863.1 2756.6 863.2 2770.6 863.3C2784.6 863.3 2798.5 863.3 2812.5 863.2C2826.5 863.2 2840.4 863.0 2854.4 862.8C2868.3 862.5 2882.3 862.2 2896.2 861.8C2910.2 861.4 2924.1 860.9 2938.0 860.3C2952.0 859.8 2965.9 859.1 2979.9 858.4C2993.8 857.6 3007.7 856.8 3021.6 855.9C3035.6 854.9 3049.5 853.9 3063.4 852.8C3077.3 851.7 3091.2 850.5 3105.1 849.2C3119.0 847.9 3132.9 846.5 3146.8 844.9C3160.7 843.4 3174.6 841.8 3188.5 840.1C3202.4 838.4 3216.2 836.5 3230.1 834.6C3244.0 832.7 3257.8 830.6 3271.7 828.5C3285.6 826.3 3299.4 824.0 3313.3 821.6C3327.1 819.3 3340.9 816.8 3354.8 814.1C3368.6 811.5 3382.4 808.8 3396.2 805.9C3410.0 803.0 3423.8 800.0 3437.6 796.9C3451.4 793.8 3465.2 790.6 3479.0 787.2C3492.8 783.8 3506.5 780.3 3520.3 776.7L4000.0 780.0L4000.0 3000.0L1500.0 3000.0L1500.0 793.0Z" fill="url(#gtD)"/>
<path d="M3636.1 925.5C3624.3 932.1 3612.5 938.8 3600.7 945.4C3588.9 952.1 3577.0 958.7 3565.2 965.4C3553.3 972.1 3541.4 978.8 3529.5 985.5C3517.6 992.1 3505.7 998.8 3493.7 1005.5C3481.8 1012.2 3469.8 1018.8 3457.8 1025.5C3445.8 1032.2 3433.8 1038.8 3421.8 1045.5C3409.7 1052.1 3397.7 1058.8 3385.6 1065.4C3373.6 1072.0 3361.5 1078.6 3349.3 1085.2C3337.2 1091.8 3325.1 1098.3 3312.9 1104.9C3300.8 1111.4 3288.6 1118.0 3276.4 1124.5C3264.2 1130.9 3252.0 1137.4 3239.8 1143.9C3227.5 1150.3 3215.3 1156.7 3203.0 1163.1C3190.7 1169.5 3178.4 1175.8 3166.1 1182.1C3153.7 1188.4 3141.4 1194.7 3129.0 1200.9C3116.6 1207.1 3104.2 1213.3 3091.8 1219.5C3079.4 1225.6 3067.0 1231.7 3054.5 1237.7C3042.1 1243.8 3029.6 1249.8 3017.1 1255.7C3004.6 1261.7 2992.1 1267.6 2979.5 1273.4C2967.0 1279.2 2954.4 1285.0 2941.8 1290.7C2929.2 1296.4 2916.6 1302.1 2903.9 1307.7C2891.3 1313.3 2878.6 1318.8 2866.0 1324.3C2853.3 1329.7 2840.6 1335.1 2827.8 1340.4C2815.1 1345.8 2802.4 1351.0 2789.6 1356.2C2776.8 1361.4 2764.0 1366.5 2751.2 1371.5C2738.3 1376.5 2725.5 1381.4 2712.6 1386.3C2699.8 1391.1 2686.9 1395.9 2673.9 1400.6C2661.0 1405.3 2648.1 1409.9 2635.1 1414.4C2622.2 1418.9 2609.2 1423.3 2596.1 1427.7C2583.1 1432.0 2570.1 1436.2 2557.0 1440.4C2544.0 1444.5 2530.9 1448.5 2517.8 1452.5C2504.7 1456.4 2491.5 1460.2 2478.4 1463.9C2465.2 1467.7 2452.0 1471.3 2438.8 1474.8C2425.6 1478.3 2412.4 1481.7 2399.1 1485.0C2385.8 1488.3 2372.6 1491.5 2359.3 1494.5C2345.9 1497.6 2332.6 1500.5 2319.3 1503.3C2305.9 1506.2 2292.5 1508.9 2279.1 1511.4C2265.7 1514.0 2252.3 1516.5 2238.8 1518.8C2225.3 1521.1 2211.9 1523.3 2198.4 1525.4C2184.9 1527.4 2171.3 1529.4 2157.8 1531.2C2144.2 1533.0 2130.6 1534.6 2117.0 1536.2C2103.4 1537.7 2089.8 1539.1 2076.1 1540.3C2062.4 1541.6 2048.8 1542.7 2035.1 1543.6C2021.3 1544.6 2007.6 1545.4 1993.8 1546.0C1980.1 1546.7 1966.3 1547.2 1952.5 1547.6C1938.7 1547.9 1924.8 1548.1 1911.0 1548.2C1897.1 1548.2 1883.2 1548.1 1869.3 1547.8C1855.4 1547.5 1841.5 1547.1 1827.5 1546.5C1813.5 1545.9 1799.5 1545.1 1785.5 1544.2C1771.5 1543.3 1757.5 1542.2 1743.4 1540.9C1729.3 1539.6 1715.2 1538.2 1701.1 1536.5C1687.0 1534.9 1672.8 1533.1 1658.7 1531.1C1644.5 1529.2 1630.3 1527.0 1616.1 1524.7L1500.0 1520.0L1500.0 3000.0L4000.0 3000.0L4000.0 930.0Z" fill="url(#gtL)"/>
<path d="M3739.2 1449.0C3727.6 1456.4 3715.9 1463.7 3704.3 1471.1C3692.6 1478.5 3680.9 1485.8 3669.3 1493.2C3657.6 1500.5 3645.9 1507.9 3634.1 1515.2C3622.4 1522.5 3610.7 1529.8 3598.9 1537.1C3587.2 1544.5 3575.4 1551.7 3563.7 1559.0C3551.9 1566.3 3540.1 1573.5 3528.3 1580.8C3516.5 1588.0 3504.6 1595.2 3492.8 1602.4C3480.9 1609.6 3469.1 1616.8 3457.2 1624.0C3445.3 1631.1 3433.4 1638.3 3421.5 1645.4C3409.6 1652.5 3397.7 1659.6 3385.7 1666.6C3373.8 1673.7 3361.8 1680.7 3349.8 1687.7C3337.8 1694.7 3325.8 1701.7 3313.8 1708.7C3301.8 1715.6 3289.7 1722.5 3277.7 1729.4C3265.6 1736.3 3253.5 1743.1 3241.4 1749.9C3229.3 1756.7 3217.2 1763.5 3205.1 1770.2C3192.9 1776.9 3180.8 1783.6 3168.6 1790.3C3156.4 1797.0 3144.2 1803.6 3132.0 1810.1C3119.8 1816.7 3107.5 1823.2 3095.3 1829.7C3083.0 1836.2 3070.7 1842.6 3058.4 1849.0C3046.1 1855.4 3033.8 1861.8 3021.4 1868.1C3009.1 1874.4 2996.7 1880.6 2984.3 1886.8C2971.9 1893.0 2959.5 1899.1 2947.1 1905.2C2934.6 1911.3 2922.2 1917.3 2909.7 1923.3C2897.2 1929.3 2884.7 1935.2 2872.2 1941.1C2859.6 1947.0 2847.1 1952.8 2834.5 1958.5C2821.9 1964.3 2809.3 1969.9 2796.7 1975.6C2784.1 1981.2 2771.4 1986.8 2758.7 1992.2C2746.1 1997.7 2733.4 2003.2 2720.6 2008.5C2707.9 2013.9 2695.2 2019.2 2682.4 2024.4C2669.6 2029.7 2656.8 2034.8 2644.0 2039.9C2631.2 2045.0 2618.3 2050.0 2605.4 2054.9C2592.6 2059.9 2579.6 2064.7 2566.7 2069.5C2553.8 2074.3 2540.8 2079.0 2527.8 2083.7C2514.9 2088.3 2501.8 2092.9 2488.8 2097.4C2475.8 2101.8 2462.7 2106.2 2449.6 2110.5C2436.5 2114.9 2423.4 2119.1 2410.2 2123.2C2397.1 2127.4 2383.9 2131.4 2370.7 2135.4C2357.5 2139.4 2344.2 2143.3 2331.0 2147.1C2317.7 2150.9 2304.4 2154.6 2291.1 2158.2C2277.8 2161.8 2264.4 2165.4 2251.0 2168.8C2237.6 2172.2 2224.2 2175.6 2210.8 2178.8C2197.3 2182.0 2183.9 2185.2 2170.4 2188.2C2156.8 2191.3 2143.3 2194.2 2129.7 2197.1C2116.2 2199.9 2102.6 2202.7 2088.9 2205.3C2075.3 2208.0 2061.7 2210.5 2048.0 2212.9C2034.3 2215.4 2020.5 2217.7 2006.8 2219.9C1993.0 2222.2 1979.2 2224.3 1965.4 2226.3C1951.6 2228.3 1937.7 2230.2 1923.9 2232.0C1910.0 2233.8 1896.1 2235.5 1882.1 2237.0C1868.1 2238.6 1854.2 2240.0 1840.1 2241.4C1826.1 2242.7 1812.1 2243.9 1798.0 2245.0L1500.0 2250.0L1500.0 3000.0L4000.0 3000.0L4000.0 1450.0Z" fill="#86e6f5"/>
<path d="M1850.3 790.5C1864.2 792.0 1878.0 793.6 1891.9 795.2C1905.8 796.8 1919.7 798.4 1933.6 800.0C1947.4 801.6 1961.3 803.2 1975.2 804.8C1989.1 806.4 2003.0 807.9 2016.9 809.5C2030.8 811.1 2044.8 812.6 2058.7 814.1C2072.6 815.7 2086.5 817.2 2100.4 818.7C2114.4 820.2 2128.3 821.7 2142.2 823.2C2156.2 824.6 2170.1 826.1 2184.1 827.5C2198.0 828.9 2211.9 830.3 2225.9 831.7C2239.8 833.0 2253.8 834.4 2267.7 835.7C2281.7 837.0 2295.7 838.3 2309.6 839.5C2323.6 840.7 2337.5 841.9 2351.5 843.1C2365.5 844.3 2379.4 845.4 2393.4 846.5C2407.4 847.6 2421.3 848.6 2435.3 849.6C2449.3 850.6 2463.3 851.6 2477.2 852.5C2491.2 853.4 2505.2 854.3 2519.1 855.1C2533.1 855.9 2547.1 856.6 2561.1 857.3C2575.0 858.0 2589.0 858.7 2603.0 859.3C2617.0 859.8 2630.9 860.4 2644.9 860.8C2658.9 861.3 2672.8 861.7 2686.8 862.1C2700.8 862.4 2714.7 862.7 2728.7 862.9C2742.7 863.1 2756.6 863.2 2770.6 863.3C2784.6 863.3 2798.5 863.3 2812.5 863.2C2826.5 863.2 2840.4 863.0 2854.4 862.8C2868.3 862.5 2882.3 862.2 2896.2 861.8C2910.2 861.4 2924.1 860.9 2938.0 860.3C2952.0 859.8 2965.9 859.1 2979.9 858.4C2993.8 857.6 3007.7 856.8 3021.6 855.9C3035.6 854.9 3049.5 853.9 3063.4 852.8C3077.3 851.7 3091.2 850.5 3105.1 849.2C3119.0 847.9 3132.9 846.5 3146.8 844.9C3160.7 843.4 3174.6 841.8 3188.5 840.1C3202.4 838.4 3216.2 836.5 3230.1 834.6C3244.0 832.7 3257.8 830.6 3271.7 828.5C3285.6 826.3 3299.4 824.0 3313.3 821.6C3327.1 819.3 3340.9 816.8 3354.8 814.1C3368.6 811.5 3382.4 808.8 3396.2 805.9C3410.0 803.0 3423.8 800.0 3437.6 796.9C3451.4 793.8 3465.2 790.6 3479.0 787.2C3492.8 783.8 3506.5 780.3 3520.3 776.7L4000.0 780.0L4000.0 870.0L3619.5 867.6C3606.9 874.0 3594.2 880.3 3581.4 886.5C3568.7 892.7 3555.9 898.7 3543.1 904.7C3530.3 910.6 3517.4 916.5 3504.5 922.2C3491.6 928.0 3478.7 933.6 3465.7 939.1C3452.8 944.6 3439.7 950.0 3426.7 955.3C3413.7 960.6 3400.6 965.8 3387.5 970.9C3374.4 975.9 3361.2 980.9 3348.1 985.8C3334.9 990.6 3321.7 995.4 3308.4 1000.1C3295.2 1004.7 3281.9 1009.3 3268.6 1013.8C3255.3 1018.2 3242.0 1022.6 3228.7 1026.8C3215.3 1031.1 3201.9 1035.2 3188.5 1039.3C3175.1 1043.4 3161.6 1047.3 3148.2 1051.2C3134.7 1055.0 3121.2 1058.8 3107.7 1062.5C3094.2 1066.2 3080.6 1069.7 3067.1 1073.2C3053.5 1076.7 3039.9 1080.1 3026.3 1083.4C3012.7 1086.7 2999.0 1089.9 2985.4 1093.0C2971.7 1096.2 2958.0 1099.2 2944.3 1102.1C2930.6 1105.1 2916.9 1107.9 2903.2 1110.7C2889.4 1113.5 2875.7 1116.2 2861.9 1118.8C2848.1 1121.3 2834.3 1123.9 2820.5 1126.3C2806.7 1128.7 2792.9 1131.1 2779.0 1133.3C2765.2 1135.6 2751.3 1137.8 2737.5 1139.9C2723.6 1142.0 2709.7 1144.0 2695.8 1146.0C2681.9 1147.9 2668.0 1149.8 2654.1 1151.6C2640.2 1153.4 2626.2 1155.1 2612.3 1156.7C2598.3 1158.4 2584.4 1160.0 2570.4 1161.5C2556.4 1163.0 2542.5 1164.4 2528.5 1165.7C2514.5 1167.1 2500.5 1168.4 2486.5 1169.6C2472.5 1170.8 2458.5 1171.9 2444.5 1173.0C2430.5 1174.1 2416.5 1175.1 2402.4 1176.0C2388.4 1177.0 2374.4 1177.8 2360.4 1178.6C2346.3 1179.5 2332.3 1180.2 2318.3 1180.9C2304.2 1181.6 2290.2 1182.2 2276.1 1182.7C2262.1 1183.3 2248.1 1183.8 2234.0 1184.2C2220.0 1184.7 2206.0 1185.0 2191.9 1185.4C2177.9 1185.7 2163.8 1185.9 2149.8 1186.2Z" fill="url(#gtw1)"/>
<path d="M3739.6 1347.7C3726.8 1353.4 3714.0 1358.9 3701.1 1364.4C3688.3 1369.9 3675.5 1375.3 3662.6 1380.6C3649.7 1385.9 3636.8 1391.2 3623.9 1396.4C3611.0 1401.5 3598.0 1406.6 3585.1 1411.6C3572.1 1416.7 3559.1 1421.6 3546.1 1426.5C3533.1 1431.4 3520.1 1436.2 3507.0 1440.9C3494.0 1445.6 3480.9 1450.3 3467.8 1454.9C3454.8 1459.5 3441.6 1464.0 3428.5 1468.4C3415.4 1472.9 3402.2 1477.3 3389.1 1481.6C3375.9 1485.9 3362.7 1490.2 3349.5 1494.4C3336.3 1498.6 3323.1 1502.7 3309.9 1506.8C3296.6 1510.8 3283.4 1514.8 3270.1 1518.8C3256.9 1522.7 3243.6 1526.6 3230.3 1530.4C3217.0 1534.2 3203.6 1538.0 3190.3 1541.7C3177.0 1545.4 3163.6 1549.1 3150.3 1552.6C3136.9 1556.2 3123.5 1559.8 3110.1 1563.3C3096.7 1566.7 3083.3 1570.2 3069.9 1573.6C3056.5 1576.9 3043.0 1580.3 3029.6 1583.5C3016.1 1586.8 3002.7 1590.0 2989.2 1593.2C2975.7 1596.4 2962.2 1599.5 2948.7 1602.6C2935.2 1605.7 2921.7 1608.7 2908.2 1611.7C2894.7 1614.7 2881.2 1617.6 2867.6 1620.5C2854.1 1623.4 2840.5 1626.3 2826.9 1629.1C2813.4 1631.9 2799.8 1634.7 2786.2 1637.4C2772.6 1640.1 2759.0 1642.8 2745.4 1645.5C2731.8 1648.1 2718.2 1650.7 2704.6 1653.3C2691.0 1655.9 2677.3 1658.4 2663.7 1660.9C2650.1 1663.4 2636.4 1665.9 2622.8 1668.3C2609.1 1670.7 2595.5 1673.1 2581.8 1675.5C2568.1 1677.9 2554.4 1680.2 2540.8 1682.5C2527.1 1684.8 2513.4 1687.1 2499.7 1689.3C2486.0 1691.6 2472.3 1693.8 2458.6 1696.0C2444.9 1698.2 2431.2 1700.3 2417.5 1702.5C2403.8 1704.6 2390.1 1706.7 2376.4 1708.8C2362.7 1710.9 2348.9 1713.0 2335.2 1715.0C2321.5 1717.1 2307.8 1719.1 2294.0 1721.1C2280.3 1723.1 2266.6 1725.1 2252.8 1727.0C2239.1 1729.0 2225.4 1730.9 2211.6 1732.9C2197.9 1734.8 2184.2 1736.7 2170.4 1738.6C2156.7 1740.5 2143.0 1742.4 2129.2 1744.3C2115.5 1746.1 2101.7 1748.0 2088.0 1749.8C2074.3 1751.7 2060.5 1753.5 2046.8 1755.3C2033.1 1757.1 2019.3 1758.9 2005.6 1760.7C1991.9 1762.5 1978.1 1764.3 1964.4 1766.1C1950.7 1767.9 1936.9 1769.7 1923.2 1771.5C1909.5 1773.2 1895.8 1775.0 1882.1 1776.8C1868.3 1778.5 1854.6 1780.3 1840.9 1782.1C1827.2 1783.8 1813.5 1785.6 1799.8 1787.3L1500.0 1790.0L1500.0 2250.0L1798.0 2245.0C1812.1 2243.9 1826.1 2242.7 1840.1 2241.4C1854.2 2240.0 1868.1 2238.6 1882.1 2237.0C1896.1 2235.5 1910.0 2233.8 1923.9 2232.0C1937.7 2230.2 1951.6 2228.3 1965.4 2226.3C1979.2 2224.3 1993.0 2222.2 2006.8 2219.9C2020.5 2217.7 2034.3 2215.4 2048.0 2212.9C2061.7 2210.5 2075.3 2208.0 2088.9 2205.3C2102.6 2202.7 2116.2 2199.9 2129.7 2197.1C2143.3 2194.2 2156.8 2191.3 2170.4 2188.2C2183.9 2185.2 2197.3 2182.0 2210.8 2178.8C2224.2 2175.6 2237.6 2172.2 2251.0 2168.8C2264.4 2165.4 2277.8 2161.8 2291.1 2158.2C2304.4 2154.6 2317.7 2150.9 2331.0 2147.1C2344.2 2143.3 2357.5 2139.4 2370.7 2135.4C2383.9 2131.4 2397.1 2127.4 2410.2 2123.2C2423.4 2119.1 2436.5 2114.9 2449.6 2110.5C2462.7 2106.2 2475.8 2101.8 2488.8 2097.4C2501.8 2092.9 2514.9 2088.3 2527.8 2083.7C2540.8 2079.0 2553.8 2074.3 2566.7 2069.5C2579.6 2064.7 2592.6 2059.9 2605.4 2054.9C2618.3 2050.0 2631.2 2045.0 2644.0 2039.9C2656.8 2034.8 2669.6 2029.7 2682.4 2024.4C2695.2 2019.2 2707.9 2013.9 2720.6 2008.5C2733.4 2003.2 2746.1 1997.7 2758.7 1992.2C2771.4 1986.8 2784.1 1981.2 2796.7 1975.6C2809.3 1969.9 2821.9 1964.3 2834.5 1958.5C2847.1 1952.8 2859.6 1947.0 2872.2 1941.1C2884.7 1935.2 2897.2 1929.3 2909.7 1923.3C2922.2 1917.3 2934.6 1911.3 2947.1 1905.2C2959.5 1899.1 2971.9 1893.0 2984.3 1886.8C2996.7 1880.6 3009.1 1874.4 3021.4 1868.1C3033.8 1861.8 3046.1 1855.4 3058.4 1849.0C3070.7 1842.6 3083.0 1836.2 3095.3 1829.7C3107.5 1823.2 3119.8 1816.7 3132.0 1810.1C3144.2 1803.6 3156.4 1797.0 3168.6 1790.3C3180.8 1783.6 3192.9 1776.9 3205.1 1770.2C3217.2 1763.5 3229.3 1756.7 3241.4 1749.9C3253.5 1743.1 3265.6 1736.3 3277.7 1729.4C3289.7 1722.5 3301.8 1715.6 3313.8 1708.7C3325.8 1701.7 3337.8 1694.7 3349.8 1687.7C3361.8 1680.7 3373.8 1673.7 3385.7 1666.6C3397.7 1659.6 3409.6 1652.5 3421.5 1645.4C3433.4 1638.3 3445.3 1631.1 3457.2 1624.0C3469.1 1616.8 3480.9 1609.6 3492.8 1602.4C3504.6 1595.2 3516.5 1588.0 3528.3 1580.8C3540.1 1573.5 3551.9 1566.3 3563.7 1559.0C3575.4 1551.7 3587.2 1544.5 3598.9 1537.1C3610.7 1529.8 3622.4 1522.5 3634.1 1515.2C3645.9 1507.9 3657.6 1500.5 3669.3 1493.2C3680.9 1485.8 3692.6 1478.5 3704.3 1471.1C3715.9 1463.7 3727.6 1456.4 3739.2 1449.0Z" fill="url(#gtw2)"/>
</g>
<line x1="1950.2" y1="1890.2" x2="3007.4" y2="2488.5" stroke="#091e42" stroke-width="8"/>
<circle cx="1950.2" cy="1890.2" r="82.3" fill="none" stroke="#091e42" stroke-width="4"/>
<circle cx="1950.2" cy="1890.2" r="43.9" fill="#091e42"/>
<text transform="translate(927.17 1498.80) scale(0.9036 1)" font-size="296.22" fill="#091e42">UX</text>
<text transform="translate(2430.89 1499.10) scale(0.9835 1)" font-size="297.09" fill="#091e42">Tech</text>
<text transform="translate(1415.99 2970.80) scale(0.9190 1)" font-size="296.66" fill="#091e42">Business</text>
<text transform="translate(3043.00 2560.50) scale(0.9799 1)" font-size="157.99" fill="#000">Product</text>
<text transform="translate(3042.98 2741.60) scale(0.9917 1)" font-size="156.40" fill="#000">Management</text>
</svg>
</body>
</html>
